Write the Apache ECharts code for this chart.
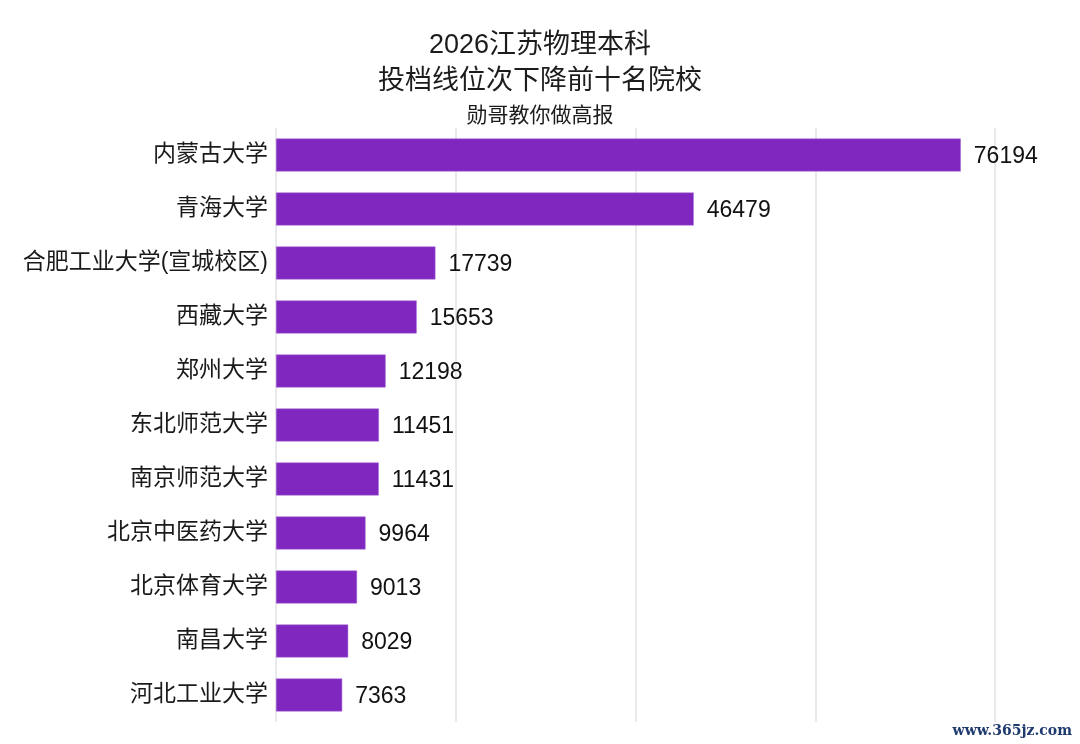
<!DOCTYPE html>
<html><head><meta charset="utf-8">
<script src="https://cdn.jsdelivr.net/npm/echarts@6/dist/echarts.min.js"></script>
<style>html,body{margin:0;padding:0;background:#fff}#c{width:1080px;height:744px}</style>
</head><body><div id="c"></div>
<script>
const categories = ['内蒙古大学','青海大学','合肥工业大学(宣城校区)','西藏大学','郑州大学','东北师范大学','南京师范大学','北京中医药大学','北京体育大学','南昌大学','河北工业大学'];
const values = [76194,46479,17739,15653,12198,11451,11431,9964,9013,8029,7363];
const titleLines = ['2026江苏物理本科','投档线位次下降前十名院校'];
const subtitle = '勋哥教你做高报';
const watermark = 'www.365jz.com';

const chart = echarts.init(document.getElementById('c'));
const font = '"Liberation Sans", "Noto Sans CJK SC", sans-serif';
chart.setOption({
  animation: false,
  backgroundColor: '#fff',
  title: [{
    text: titleLines.join('\n'),
    left: 'center', top: 23,
    textStyle: {fontFamily: font, fontSize: 27, fontWeight: 'normal', color: '#1c1c1c', lineHeight: 36}
  },{
    text: subtitle,
    left: 'center', top: 101,
    textStyle: {fontFamily: font, fontSize: 21, fontWeight: 'normal', color: '#1c1c1c'}
  }],
  graphic: [{
    type: 'text', right: 8, bottom: 6,
    style: {text: watermark, font: 'bold 14px "DejaVu Serif", serif', fill: '#1f3a6e'}
  }],
  grid: {left: 276, right: 85, top: 128, bottom: 22, containLabel: false},
  xAxis: {
    type: 'value', min: 0, max: 80000, interval: 20000,
    axisLabel: {show: false}, axisLine: {show: false}, axisTick: {show: false},
    splitLine: {show: true, lineStyle: {color: '#e3e3e3', width: 1.5}}
  },
  yAxis: {
    type: 'category', data: categories, inverse: true,
    axisLine: {show: false}, axisTick: {show: false},
    axisLabel: {fontFamily: font, fontSize: 23, color: '#1a1a1a', margin: 8, padding: [4, 0, 0, 0]}
  },
  series: [{
    type: 'bar', data: values, barCategoryGap: '39%',
    itemStyle: {color: '#7f27bf', borderColor: '#a66bd6', borderWidth: 0.5},
    label: {show: true, position: 'right', distance: 13, offset: [0, 2], fontFamily: font, fontSize: 23, color: '#111'}
  }]
});
</script></body></html>
